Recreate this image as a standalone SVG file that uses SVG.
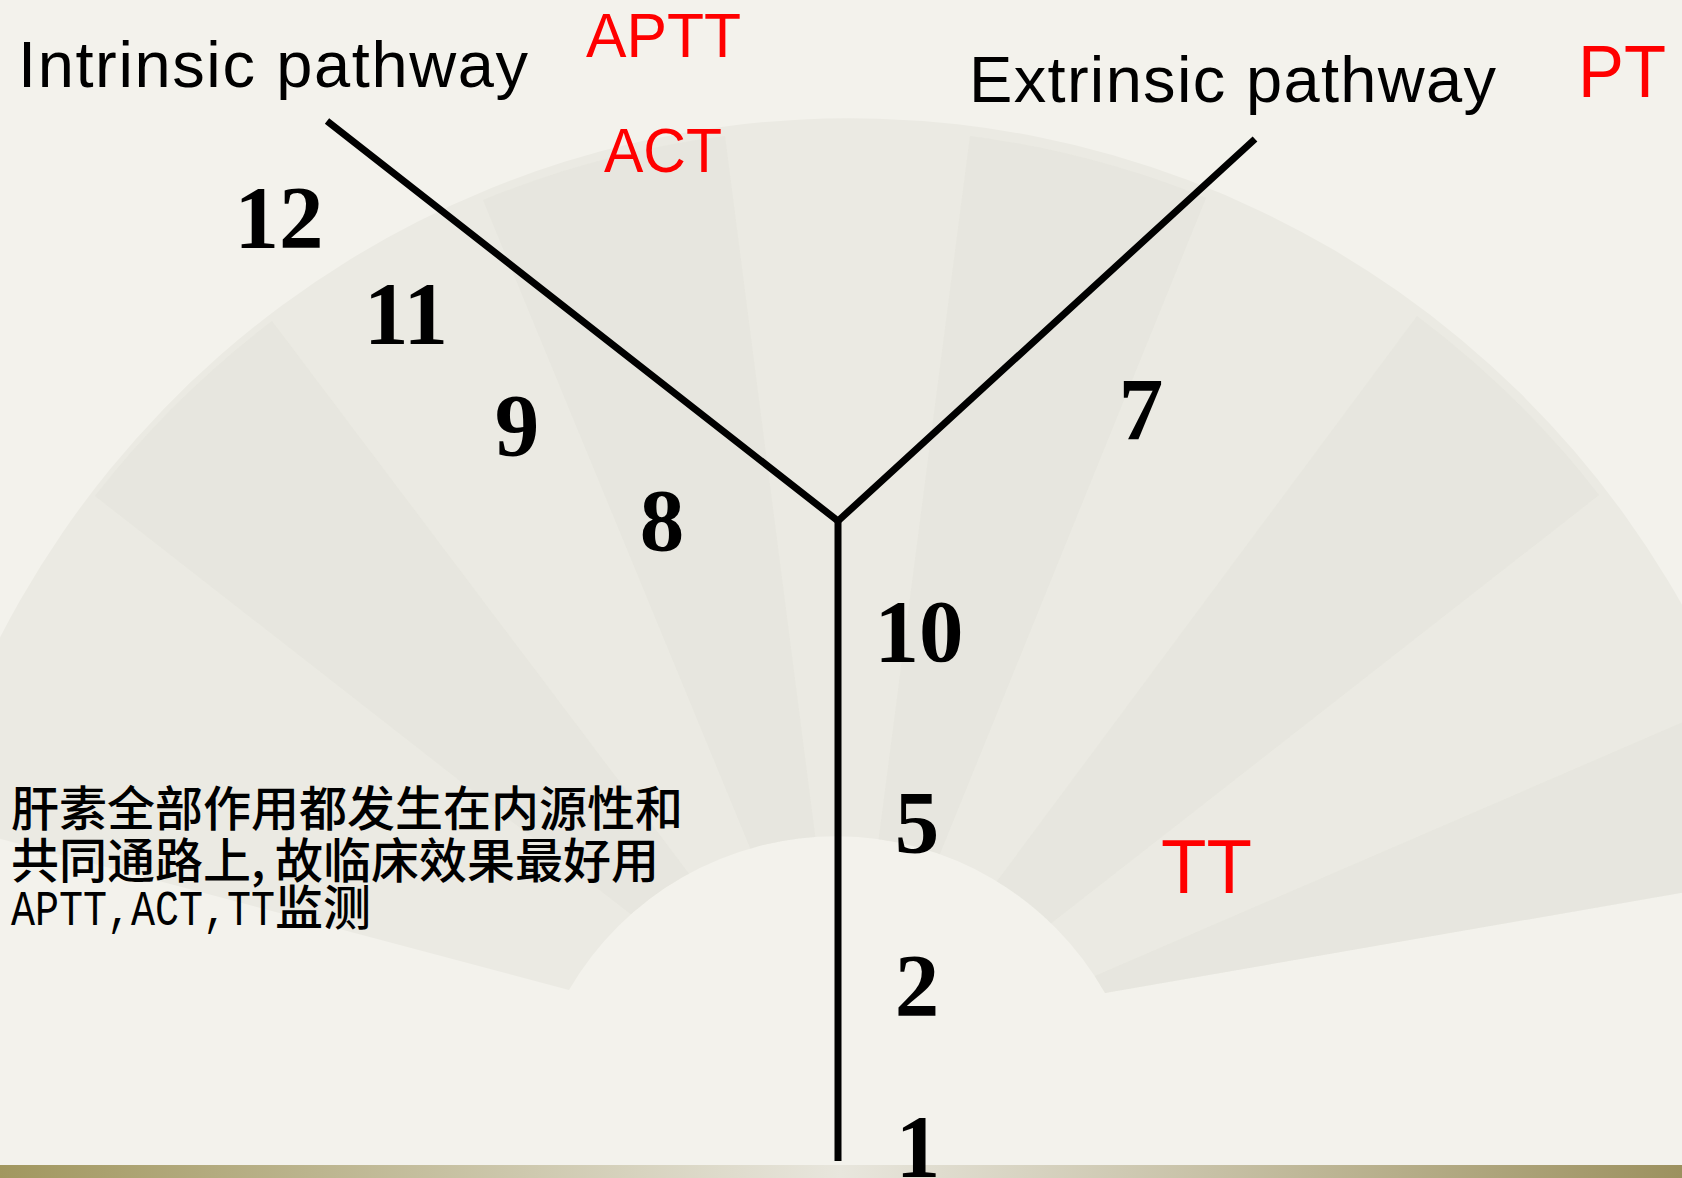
<svg xmlns="http://www.w3.org/2000/svg" width="1682" height="1178" viewBox="0 0 1682 1178">
  <defs>
    <linearGradient id="barGrad" x1="0" y1="0" x2="1" y2="0">
      <stop offset="0" stop-color="#a1975f"/>
      <stop offset="0.5" stop-color="#e8e6dd"/>
      <stop offset="1" stop-color="#9c915f"/>
    </linearGradient>
    <clipPath id="fanClip">
      <path d="M -71 820 A 955 955 0 0 1 1784 875 L 1105 993 A 309 309 0 0 0 569 990 Z"/>
    </clipPath>
    <style>
      .title { font-family: "Liberation Sans", Arial, sans-serif; fill: #000; }
      .red { font-family: "Liberation Sans", Arial, sans-serif; fill: #ff0000; }
      .factor { font-family: "Liberation Serif", "Times New Roman", serif; font-weight: bold; font-size: 89px; fill: #000; text-anchor: middle; }
      .note { font-family: "Noto Sans CJK SC", "Noto Sans", sans-serif; font-size: 48px; fill: #000; font-weight: 500; }
      .note-latin { font-family: "Liberation Mono", "Courier New", monospace; font-size: 40px; fill: #000; }
      .path-line { fill: none; stroke: #000; stroke-width: 7; stroke-linejoin: miter; }
      .panel { fill: #e0dfd7; opacity: 0.35; }
    </style>
  </defs>

  <!-- paper background -->
  <rect width="1682" height="1178" fill="#f3f2ec"/>

  <!-- faint folding fan in the background -->
  <g id="fan">
    <path d="M -71 820 A 955 955 0 0 1 1784 875 L 1105 993 A 309 309 0 0 0 569 990 Z" fill="#ebeae3"/>
    <!-- alternating fan panels (radial bands about centre 847,1083) -->
    <g clip-path="url(#fanClip)">
      <path class="panel" d="M 847 1083 L 1820 870 L 1725 704 Z"/>
      <path class="panel" d="M 847 1083 L 1599 495 A 955 955 0 0 0 1417 316 Z"/>
      <path class="panel" d="M 847 1083 L 1206 198 A 955 955 0 0 0 970 136 Z"/>
      <path class="panel" d="M 847 1083 L 725 136 A 955 955 0 0 0 483 200 Z"/>
      <path class="panel" d="M 847 1083 L 272 321 A 955 955 0 0 0 95 496 Z"/>
    </g>
  </g>

  <!-- bottom band -->
  <rect x="0" y="1165" width="1682" height="13" fill="url(#barGrad)"/>

  <!-- connectors: the intrinsic and extrinsic branches join the common pathway -->
  <g id="connectors">
    <polyline class="path-line" points="327,121 838,521 1255,139"/>
    <line class="path-line" x1="838" y1="519" x2="838" y2="1161"/>
  </g>

  <g id="intrinsic-label"><text class="title" x="18" y="87" font-size="65" textLength="510">Intrinsic pathway</text></g>
  <g id="extrinsic-label"><text class="title" x="969" y="102" font-size="65" textLength="527">Extrinsic pathway</text></g>

  <g id="test-aptt"><text class="red" x="586" y="57" font-size="63" textLength="155" lengthAdjust="spacingAndGlyphs">APTT</text></g>
  <g id="test-act"><text class="red" x="604" y="172" font-size="63" textLength="118" lengthAdjust="spacingAndGlyphs">ACT</text></g>
  <g id="test-pt"><text class="red" x="1578" y="97" font-size="75" textLength="88" lengthAdjust="spacingAndGlyphs">PT</text></g>
  <g id="test-tt"><text class="red" x="1161" y="893" font-size="76" textLength="91" lengthAdjust="spacingAndGlyphs">TT</text></g>

  <!-- coagulation factors -->
  <g id="factor-12"><text class="factor" x="279" y="247">12</text></g>
  <g id="factor-11"><text class="factor" x="406" y="343">11</text></g>
  <g id="factor-9"><text class="factor" x="517" y="455">9</text></g>
  <g id="factor-8"><text class="factor" x="662" y="550">8</text></g>
  <g id="factor-7"><text class="factor" x="1141" y="439">7</text></g>
  <g id="factor-10"><text class="factor" x="919" y="661">10</text></g>
  <g id="factor-5"><text class="factor" x="917" y="852">5</text></g>
  <g id="factor-2"><text class="factor" x="917" y="1015">2</text></g>
  <g id="factor-1"><text class="factor" x="918" y="1176">1</text></g>

  <!-- heparin note: full-width ideographs on a 48px grid, half-width Latin on 24px cells -->
  <g id="heparin-note">
    <text class="note" x="11" y="826">肝素全部作用都发生在内源性和</text>
    <text class="note" y="878" x="11 59 107 155 203 251 275 323 371 419 467 515 563 611">共同通路上,故临床效果最好用</text>
    <text class="note-latin" transform="translate(11 925) scale(1 1.27)">APTT,ACT,TT</text>
    <text class="note" x="275" y="925">监测</text>
  </g>
</svg>
